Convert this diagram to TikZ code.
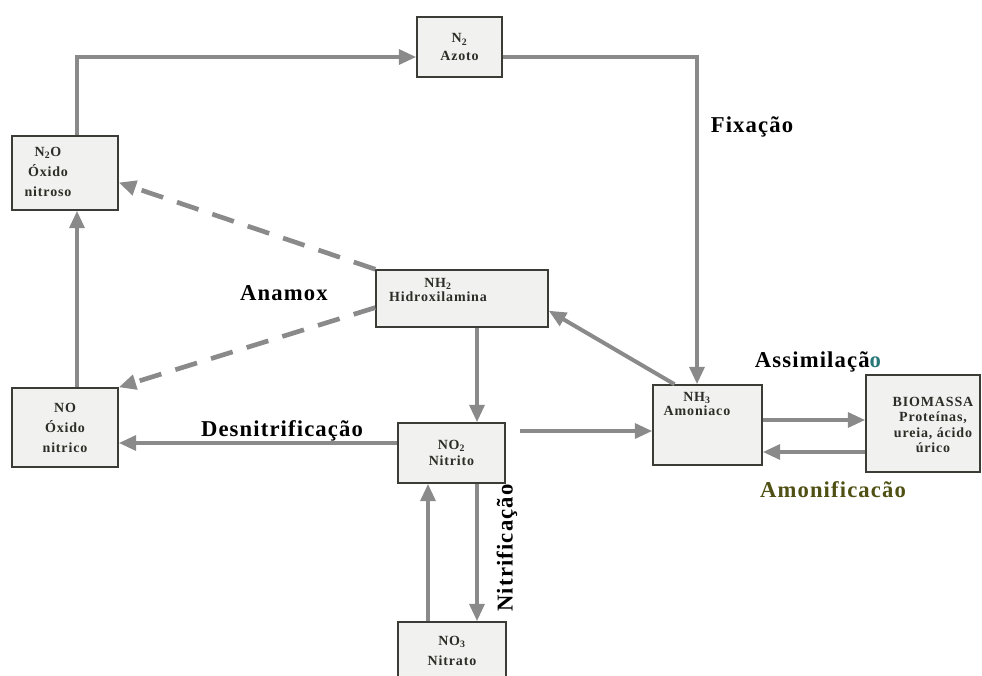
\documentclass[tikz,border=0pt]{standalone}
\usepackage{fontspec}
\setmainfont{Liberation Serif}
\newfontfamily\caixafont[LetterSpace=6]{Liberation Serif}
\newfontfamily\rotulofont[LetterSpace=5]{Liberation Serif}
\usetikzlibrary{arrows.meta}

\definecolor{cinzaseta}{RGB}{138,138,138}
\definecolor{fundocaixa}{RGB}{241,241,239}
\definecolor{bordacaixa}{RGB}{60,60,55}
\definecolor{textocaixa}{RGB}{45,45,40}
\definecolor{verdeazul}{RGB}{40,120,120}
\definecolor{oliva}{RGB}{80,80,20}

\tikzset{
	caixa/.style={draw=bordacaixa, line width=1.1pt, fill=fundocaixa, align=center, inner sep=0pt,
		text=textocaixa, font=\caixafont\bfseries\fontsize{10.5}{13}\selectfont},
	texto/.style={align=center, inner sep=0pt, text=textocaixa, font=\caixafont\bfseries\fontsize{10.5}{13}\selectfont},
	seta/.style={color=cinzaseta, line width=3pt, -{Triangle[length=13pt,width=11pt]}},
	tracejada/.style={seta, line width=3.5pt, dash pattern=on 17pt off 11pt},
	rotulo/.style={inner sep=0pt, font=\rotulofont\bfseries\fontsize{17}{20}\selectfont}
}

\begin{document}
\begin{tikzpicture}[x=0.75pt,y=0.75pt,yscale=-1,xscale=1]
		\useasboundingbox (0,0) rectangle (982,675);
		
		% Caixas
		\node[caixa, minimum width=63.75pt, minimum height=45pt] (n2) at (459.5,47) {N\textsubscript{2}\\Azoto};
		\node[caixa, minimum width=79.5pt, minimum height=55.5pt] (n2o) at (65,173) {};
		\node[texto, font=\caixafont\bfseries\fontsize{10.5}{15}\selectfont] (n2ot) at (48,172) {N\textsubscript{2}O\\Óxido\\nitroso};
		\node[caixa, minimum width=129pt, minimum height=42.75pt] (hid) at (462,298.5) {};
		\node[texto, font=\caixafont\bfseries\fontsize{10.5}{11}\selectfont] (hidt) at (438,290) {NH\textsubscript{2}\\Hidroxilamina};
		\node[caixa, minimum width=79.5pt, minimum height=59.25pt, font=\caixafont\bfseries\fontsize{10.5}{15}\selectfont] (no) at (65,427.5) {NO\\Óxido\\nitrico};
		\node[caixa, minimum width=80.25pt, minimum height=45pt, font=\caixafont\bfseries\fontsize{10.5}{12}\selectfont] (no2) at (451.5,453) {NO\textsubscript{2}\\Nitrito};
		\node[caixa, minimum width=81pt, minimum height=43.5pt, font=\caixafont\bfseries\fontsize{10.5}{15}\selectfont] (no3) at (452,651) {NO\textsubscript{3}\\Nitrato};
		\node[caixa, minimum width=81.75pt, minimum height=60pt] (nh3) at (707.5,425) {};
		\node[texto, font=\caixafont\bfseries\fontsize{10.5}{11}\selectfont] (nh3t) at (697,404) {NH\textsubscript{3}\\Amoniaco};
		\node[caixa, minimum width=85.5pt, minimum height=72.75pt] (bio) at (923,423.5) {};
		\node[texto, font=\caixafont\bfseries\fontsize{10.5}{11.5}\selectfont] (biot) at (933,425) {BIOMASSA\\Proteínas,\\ureia, ácido\\úrico};
		
		% Pontos de apoio
		\coordinate (k1) at (77,57);
		\coordinate (k2) at (697,57);
		\coordinate (k3) at (477,400);
		\coordinate (k4) at (300,443);
		\coordinate (k5) at (600,431);
		\coordinate (k6) at (800,420);
		\coordinate (k7) at (800,452);
		\coordinate (k8) at (428,550);
		
		% Ligacoes
		\draw[seta] (n2o.north -| k1) -- (k1) -- (n2.west |- k1);
		\draw[seta] (n2.east |- k2) -- (k2) -- (nh3.north -| k2);
		\draw[seta] (nh3.129) -- (hid.-8);
		\draw[tracejada] (hid.north west) -- (n2o.-10);
		\draw[tracejada] (hid.186) -- (no.north east);
		\draw[seta] (hid.south -| k3) -- (no2.north -| k3);
		\draw[seta] (no2.west |- k4) -- (no.east |- k4);
		\draw[seta, shorten <=10.5pt] (no2.east |- k5) -- (nh3.west |- k5);
		\draw[seta] (nh3.east |- k6) -- (bio.west |- k6);
		\draw[seta] (bio.west |- k7) -- (nh3.east |- k7);
		\draw[seta] (no.north -| k1) -- (n2o.south -| k1);
		\draw[seta] (no3.north -| k8) -- (no2.south -| k8);
		\draw[seta] (no2.south -| k3) -- (no3.north -| k3);
		
		% Rotulos
		\node[rotulo] (fix) at (752,127) {Fixação};
		\node[rotulo] (anam) at (284,293) {Anamox};
		\node[rotulo] (desn) at (282,431) {Desnitrificação};
		\node[rotulo] (assim) at (818,362) {Assimilaçã{\color{verdeazul}o}};
		\node[rotulo, text=oliva] (amon) at (833,490) {Amonificacão};
		\node[rotulo, rotate=90] (nitr) at (507,548) {Nitrificação};
		
\end{tikzpicture}
\end{document}
